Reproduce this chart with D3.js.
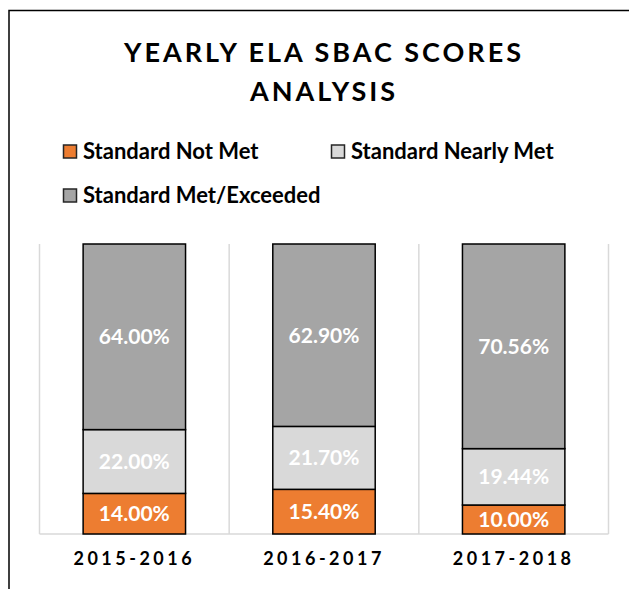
<!DOCTYPE html>
<html>
<head>
<meta charset="utf-8">
<script src="https://cdn.jsdelivr.net/npm/d3@7"></script>
<style>
  body { margin: 0; background: #fff; }
  svg { display: block; }
  text { font-family: Lato, 'Open Sans', sans-serif; font-weight: 700; }
</style>
</head>
<body>
<div id="chart"></div>
<script>
// chart values
var years = ['2015-2016', '2016-2017', '2017-2018'];
var series = ['Standard Not Met', 'Standard Nearly Met', 'Standard Met/Exceeded'];
var notMet = [14.00, 15.40, 10.00];
var nearlyMet = [22.00, 21.70, 19.44];
var metExceeded = [64.00, 62.90, 70.56];
var colors = ['#ED7D31', '#D9D9D9', '#A5A5A5'];

var width = 629, height = 589;

var svg = d3.select('#chart').append('svg')
    .attr('width', width)
    .attr('height', height);

// frame (only left + top visible in the crop)
svg.append('path')
    .attr('d', 'M9,' + height + 'V10.5H' + width)
    .style('fill', 'none')
    .style('stroke', '#000')
    .style('stroke-width', 1.5);

// title
var title = svg.append('text')
    .attr('text-anchor', 'middle')
    .style('font-size', '27px')
    .style('letter-spacing', '3px')
    .style('fill', '#000');
title.append('tspan').attr('x', 324).attr('y', 62).text('YEARLY ELA SBAC SCORES');
title.append('tspan').attr('x', 324).attr('y', 101).text('ANALYSIS');

// legend
var legendPos = [[63, 151], [331, 151], [63, 195]];
var legend = svg.selectAll('g.legend')
    .data(series)
    .enter()
    .append('g').classed('legend', true)
    .attr('transform', function(d, i) { return 'translate(' + legendPos[i][0] + ',' + legendPos[i][1] + ')'; });
legend.append('rect')
    .attr('x', 0.5)
    .attr('y', -6)
    .attr('width', 13)
    .attr('height', 13)
    .style('fill', function(d, i) { return colors[i]; })
    .style('stroke', '#262626')
    .style('stroke-width', 1.5);
legend.append('text')
    .attr('x', 20)
    .attr('dy', '0.35em')
    .style('font-size', '22px')
    .style('fill', '#000')
    .text(function(d) { return d; });

// scales
var plotLeft = 39.5, plotRight = 608.5, plotTop = 244, plotBottom = 534;
var xScale = d3.scaleBand()
    .domain(years)
    .range([plotLeft, plotRight])
    .paddingInner(0.46)
    .paddingOuter(0.23);
var yScale = d3.scaleLinear()
    .domain([0, 100])
    .range([plotBottom, plotTop]);

// category gridlines
var bounds = d3.range(years.length + 1).map(function(i) {
    return plotLeft + i * xScale.step();
});
svg.selectAll('line.grid')
    .data(bounds)
    .enter()
    .append('line').classed('grid', true)
    .attr('x1', function(d) { return d; })
    .attr('x2', function(d) { return d; })
    .attr('y1', plotTop)
    .attr('y2', plotBottom)
    .style('stroke', '#D9D9D9')
    .style('stroke-width', 1.5);

// x axis
var xAxis = d3.axisBottom(xScale).tickSize(0).tickPadding(18);
var gx = svg.append('g')
    .attr('transform', 'translate(0,' + plotBottom + ')')
    .call(xAxis);
gx.select('.domain')
    .attr('d', 'M' + plotLeft + ',0H' + plotRight)
    .style('stroke', '#D9D9D9')
    .style('stroke-width', 1.5);
gx.selectAll('text')
    .style('font-family', 'Lato, sans-serif')
    .style('font-weight', 700)
    .style('font-size', '18px')
    .style('letter-spacing', '3.5px')
    .style('fill', '#000');

// stacked bars
var table = years.map(function(y, i) {
    return { year: y, s0: notMet[i], s1: nearlyMet[i], s2: metExceeded[i] };
});
var stacked = d3.stack().keys(['s0', 's1', 's2'])(table);

var layers = svg.selectAll('g.layer')
    .data(stacked)
    .enter()
    .append('g').classed('layer', true)
    .style('fill', function(d, i) { return colors[i]; });

layers.selectAll('rect')
    .data(function(d) { return d; })
    .enter()
    .append('rect')
    .attr('x', function(d) { return xScale(d.data.year); })
    .attr('y', function(d) { return yScale(d[1]); })
    .attr('width', xScale.bandwidth())
    .attr('height', function(d) { return yScale(d[0]) - yScale(d[1]); })
    .style('stroke', '#000')
    .style('stroke-width', 1.5);

layers.selectAll('text')
    .data(function(d) { return d; })
    .enter()
    .append('text')
    .attr('x', function(d) { return xScale(d.data.year) + xScale.bandwidth() / 2; })
    .attr('y', function(d) { return (yScale(d[0]) + yScale(d[1])) / 2; })
    .attr('dy', '0.35em')
    .attr('text-anchor', 'middle')
    .style('font-size', '21px')
    .style('fill', '#fff')
    .text(function(d) { return (d[1] - d[0]).toFixed(2) + '%'; });
</script>
</body>
</html>
